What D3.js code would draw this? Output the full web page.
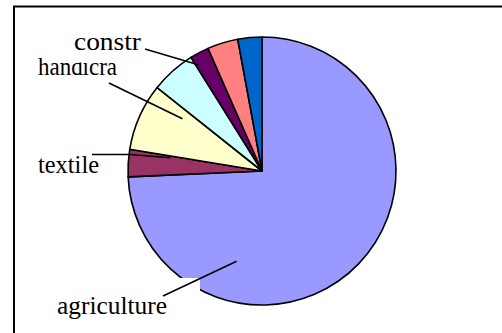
<!DOCTYPE html>
<html>
<head>
<meta charset="utf-8">
<script src="https://cdn.jsdelivr.net/npm/d3@7"></script>
<style>
  html, body { margin: 0; padding: 0; background: #fff; }
  svg { display: block; }
  .lbl { font-family: "Liberation Serif", Tinos, "Times New Roman", Times, "DejaVu Serif", serif; }
</style>
</head>
<body>
<svg id="chart" width="502" height="333"></svg>
<script>
// Employment share by sector (percent), clockwise from 12 o'clock
const categories = ["agriculture", "textile", "handicra", "services", "constr", "trade", "transport"];
const values     = [74.3, 3.3, 8.1, 5.4, 2.3, 3.7, 2.9];
const colors     = ["#9999FF", "#993366", "#FFFFCC", "#CCFFFF", "#660066", "#FF8080", "#0066CC"];
// Only some slices carry a label
const labelShown = [true, true, true, false, true, false, false];

const svg = d3.select("#chart");
const cx = 262, cy = 171, radius = 134;

// chart frame (runs past the right and bottom edges)
svg.append("rect")
  .attr("x", 14).attr("y", 6.5)
  .attr("width", 520).attr("height", 360)
  .attr("fill", "none").attr("stroke", "#000").attr("stroke-width", 2);

const data = categories.map((c, i) => ({ name: c, value: values[i], color: colors[i], shown: labelShown[i] }));

const pie = d3.pie().value(d => d.value).sort(null);
const arc = d3.arc().innerRadius(0).outerRadius(radius);
const arcs = pie(data);

const g = svg.append("g").attr("transform", `translate(${cx},${cy})`);
g.selectAll("path.slice")
  .data(arcs)
  .join("path")
  .attr("class", "slice")
  .attr("d", arc)
  .attr("fill", d => d.data.color)
  .attr("stroke", "#000")
  .attr("stroke-width", 1.6)
  .attr("stroke-linejoin", "round");

// label layout: text anchor and width, white backing box, leader path (start, optional elbow, polar end point)
const labelLayout = {
  agriculture: { x: 57, y: 314,   w: 110, box: [50, 278, 150, 50],  from: [163, 296],  elbow: null,         endDeg: 195.7, endR: 0.70 },
  textile:     { x: 38, y: 172.5, w: 61,  box: null,                from: [92, 154.5], elbow: [130, 154.5], endDeg: 278.2, endR: 0.69 },
  handicra:    { x: 38, y: 75,    w: 79,  box: null,                from: [109, 83],   elbow: null,         endDeg: 303.3, endR: 0.71 },
  constr:      { x: 74, y: 50,    w: 67,  box: [62, 26, 82, 36.5],  from: [145, 49],   elbow: null,         endDeg: 329.3, endR: 0.92 }
};

function polar(deg, r) {
  const a = deg * Math.PI / 180;
  return [cx + Math.sin(a) * r * radius, cy - Math.cos(a) * r * radius];
}

const labelled = arcs.filter(d => d.data.shown);
const order = ["agriculture", "textile", "handicra", "constr"];

order.forEach(name => {
  const L = labelLayout[name];
  if (L.box) {
    svg.append("rect")
      .attr("x", L.box[0]).attr("y", L.box[1])
      .attr("width", L.box[2]).attr("height", L.box[3])
      .attr("fill", "#fff");
  }
  const pts = [L.from];
  if (L.elbow) pts.push(L.elbow);
  pts.push(polar(L.endDeg, L.endR));
  svg.append("path")
    .attr("d", d3.line()(pts))
    .attr("fill", "none")
    .attr("stroke", "#000")
    .attr("stroke-width", 1.6);
  svg.append("text")
    .attr("class", "lbl")
    .attr("x", L.x).attr("y", L.y)
    .attr("font-size", 25)
    .attr("textLength", L.w)
    .attr("lengthAdjust", "spacingAndGlyphs")
    .attr("fill", "#000")
    .text(labelled.find(d => d.data.name === name).data.name);
});
</script>
</body>
</html>
